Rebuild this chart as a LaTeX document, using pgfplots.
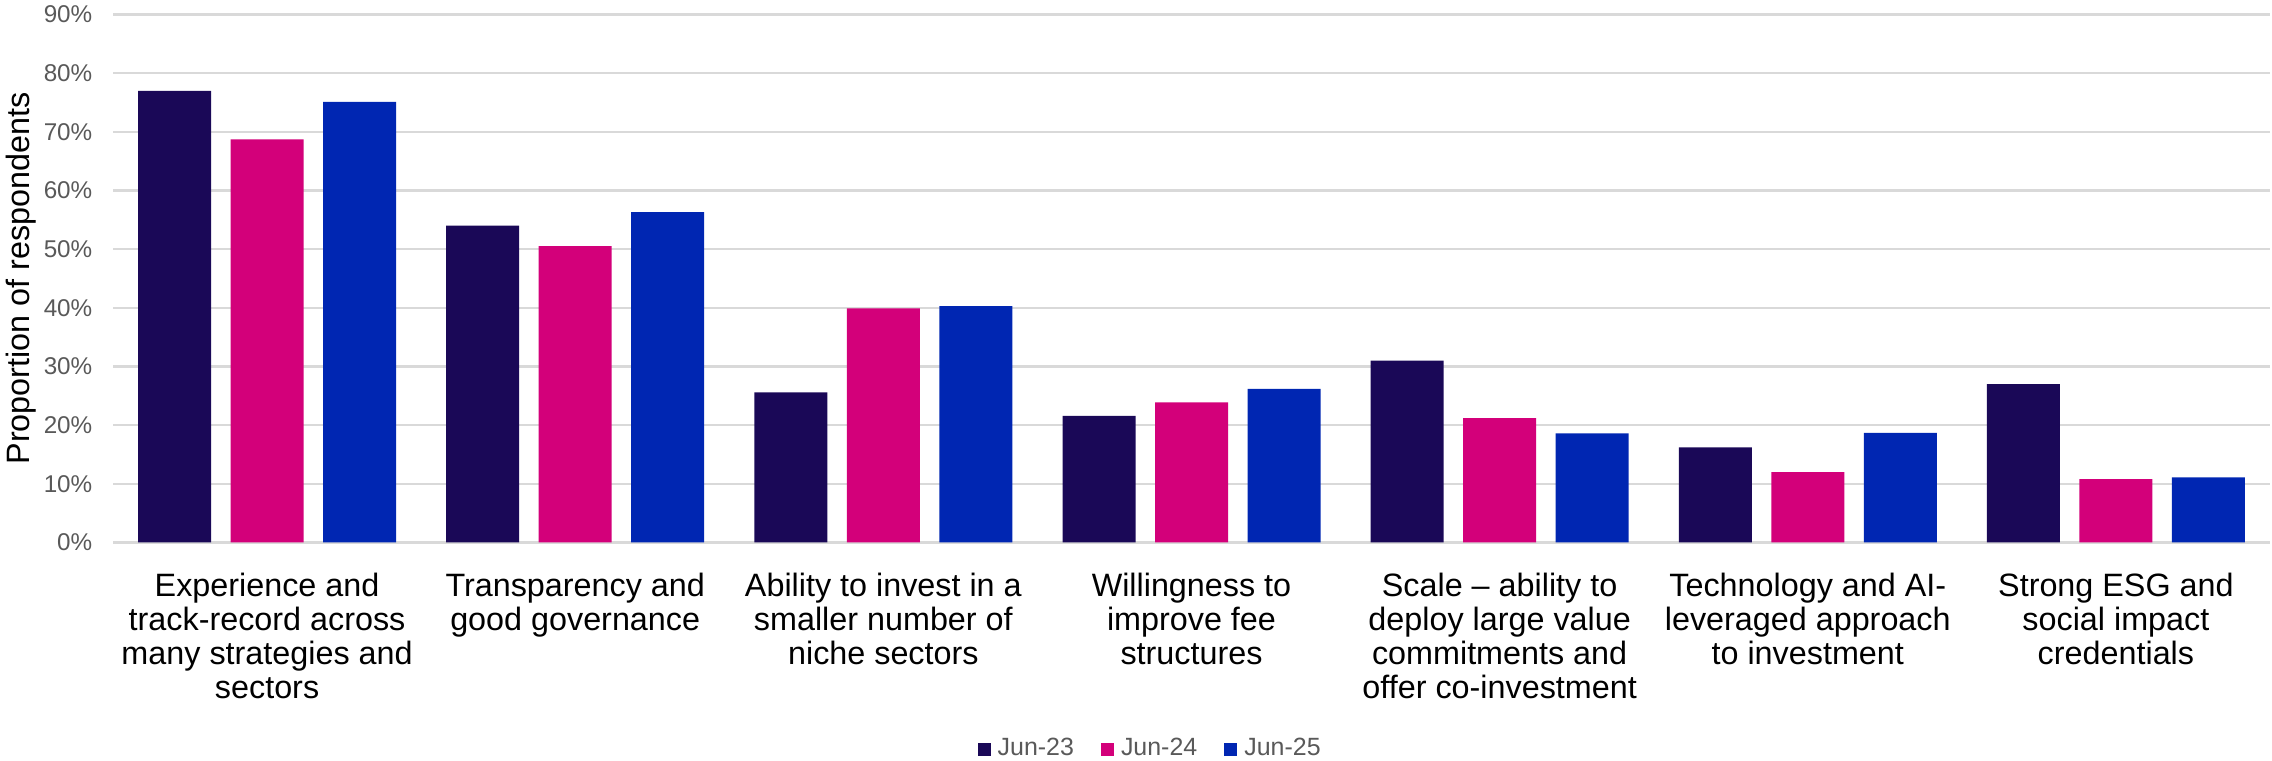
\documentclass[border=0pt]{standalone}
\usepackage{fontspec}
\setmainfont{Liberation Sans}
\usepackage{pgfplots}
\pgfplotsset{compat=1.18}

\definecolor{cJunA}{RGB}{26,8,87}
\definecolor{cJunB}{RGB}{211,0,122}
\definecolor{cJunC}{RGB}{0,38,178}
\definecolor{gridgray}{RGB}{217,217,217}
\definecolor{labelgray}{RGB}{89,89,89}

\begin{document}
\begin{tikzpicture}
% 1 px of the reference = 0.01cm
\useasboundingbox (-1.13,-2.18) rectangle (21.59,5.425);
\begin{axis}[
  at={(0,0)}, anchor=south west,
  scale only axis,
  width=21.57cm, height=5.28cm,
  xmin=-0.5, xmax=6.5,
  ymin=0, ymax=90,
  ytick={0,10,...,90},
  ymajorgrids,
  major grid style={gridgray, line width=0.6pt},
  axis line style={draw=none},
  tick style={draw=none},
  ybar=0.195cm,
  bar width=0.73cm,
  xtick=data,
  xticklabels={
    {Experience and\\track-record across\\many strategies and\\sectors},
    {Transparency and\\good governance},
    {Ability to invest in a\\smaller number of\\niche sectors},
    {Willingness to\\improve fee\\structures},
    {Scale – ability to\\deploy large value\\commitments and\\offer co-investment},
    {Technology and AI-\\leveraged approach\\to investment},
    {Strong ESG and\\social impact\\credentials}},
  xticklabel style={align=center, anchor=north, inner sep=0pt, yshift=-0.15cm,
    font=\fontsize{9.2}{9.7}\selectfont, text=black},
  yticklabel={\pgfmathprintnumber{\tick}\%},
  /pgf/number format/assume math mode=true,
  yticklabel style={anchor=east, inner sep=0pt, xshift=-0.2cm,
    font=\fontsize{6.9}{8}\selectfont, text=labelgray},
  ylabel={Proportion of respondents},
  ylabel style={at={(axis description cs:0,0.5)}, anchor=center, yshift=0.92cm,
    font=\fontsize{9.2}{10}\selectfont},
  legend style={at={(0.482,-0.392)}, anchor=center, draw=none,
    legend columns=-1, font=\fontsize{7.1}{8}\selectfont, text=labelgray,
    /tikz/every even column/.append style={column sep=0.2cm},
    inner sep=0pt},
  legend image code/.code={\fill[#1] (0cm,-0.065cm) rectangle (0.13cm,0.065cm);},
]
\addplot[fill=cJunA, draw=none] coordinates {
(0,77.0) (1,54.0) (2,25.6) (3,21.6) (4,31.0) (5,16.2) (6,27.0)};
\addplot[fill=cJunB, draw=none] coordinates {
(0,68.7) (1,50.5) (2,39.9) (3,23.9) (4,21.2) (5,12.0) (6,10.8)};
\addplot[fill=cJunC, draw=none] coordinates {
(0,75.1) (1,56.3) (2,40.3) (3,26.2) (4,18.6) (5,18.7) (6,11.1)};
\legend{Jun-23, Jun-24, Jun-25}
\end{axis}
\end{tikzpicture}
\end{document}
